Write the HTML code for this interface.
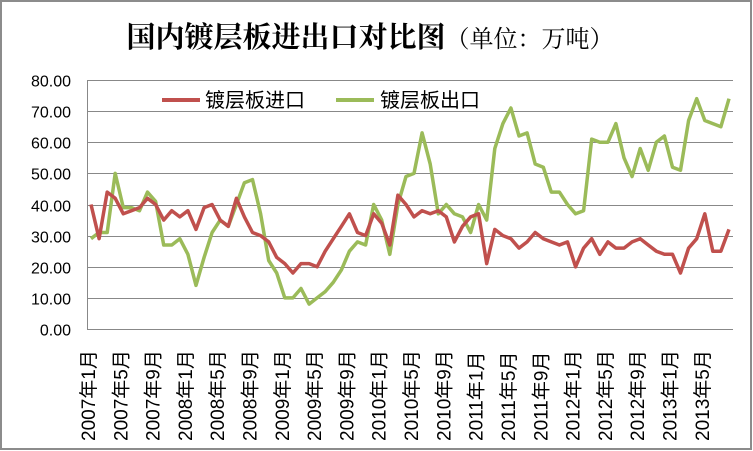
<!DOCTYPE html>
<html><head><meta charset="utf-8"><style>
html,body{margin:0;padding:0;background:#fff;}
svg{display:block;}
</style></head><body>
<svg width="753" height="451" viewBox="0 0 753 451" xmlns="http://www.w3.org/2000/svg">
<rect x="1" y="1" width="750" height="448" fill="#fff" stroke="#8c8c8c" stroke-width="2"/>
<text x="370" y="47" text-anchor="middle" font-family="'Noto Serif CJK SC','Liberation Serif',serif" font-size="29" font-weight="bold" fill="#000">国内镀层板进出口对比图<tspan font-size="24" font-weight="normal">（单位：万吨）</tspan></text>
<g id="grid" stroke="#888" stroke-width="1"></g>
<line x1="87.5" y1="80" x2="87.5" y2="329" stroke="#888"/>
<g id="ylab" font-family="'Liberation Sans',sans-serif" font-size="16" fill="#000" text-anchor="end"></g>
<g id="xlab" font-family="'Liberation Sans','Noto Sans CJK SC',sans-serif" font-size="19" fill="#000"></g>
<polyline id="exp" fill="none" stroke="#9bbb59" stroke-width="3.5" stroke-linejoin="round"/>
<polyline id="imp" fill="none" stroke="#c0504d" stroke-width="3.5" stroke-linejoin="round"/>
<line x1="162" y1="100" x2="200" y2="100" stroke="#c0504d" stroke-width="4"/>
<text x="205" y="107" font-family="'Noto Sans CJK SC',sans-serif" font-size="20">镀层板进口</text>
<line x1="336" y1="100" x2="374" y2="100" stroke="#9bbb59" stroke-width="4"/>
<text x="380" y="107" font-family="'Noto Sans CJK SC',sans-serif" font-size="20">镀层板出口</text>
</svg>
<script>
var ns="http://www.w3.org/2000/svg";
function Y(v){return 329-v*3.1125;}
var g=document.getElementById('grid'),yl=document.getElementById('ylab'),xl=document.getElementById('xlab');
for(var i=0;i<=8;i++){var y=Math.round(Y(i*10))+0.5;var l=document.createElementNS(ns,'line');l.setAttribute('x1',87);l.setAttribute('x2',733);l.setAttribute('y1',y);l.setAttribute('y2',y);g.appendChild(l);
var t=document.createElementNS(ns,'text');t.setAttribute('x',71);t.setAttribute('y',y+6);t.textContent=(i*10).toFixed(2);yl.appendChild(t);}
var imp=[40,29,44,42,37,38,39,42,40,35,38,36, 38,32,39,40,35,33,42,36,31,30,28,23, 21,18,21,21,20,25,29,33,37,31,30,37, 34,27,43,40,36,38,37,38,36,28,33,36, 37,21,32,30,29,26,28,31,29,28,27,28, 20,26,29,24,28,26,26,28,29,27,25,24, 24,18,26,29,37,25,25,32];
var exp=[29,31,31,50,39,39,38,44,41,27,27,29, 24,14,23,31,35,33,40,47,48,37,22,18, 10,10,13,8,10,12,15,19,25,28,27,40, 35,24,40,49,50,63,53,37,40,37,36,31, 40,35,58,66,71,62,63,53,52,44,44,40, 37,38,61,60,60,66,55,49,58,51,60,62, 52,51,67,74,67,66,65,74];
var dx=(729-91)/79;
function pts(a){return a.map(function(v,i){return (91+i*dx).toFixed(1)+','+Y(v).toFixed(1);}).join(' ');}
document.getElementById('imp').setAttribute('points',pts(imp));
document.getElementById('exp').setAttribute('points',pts(exp));
var m=['1','5','9'];
for(var k=0;k<20;k++){var yr=2007+Math.floor(k/3);var mo=m[k%3];var x=88+k*4*dx+7;
var t=document.createElementNS(ns,'text');t.setAttribute('transform','translate('+x.toFixed(1)+',441) rotate(-90)');t.textContent=yr+'年'+mo+'月';xl.appendChild(t);}
</script>
</body></html>
